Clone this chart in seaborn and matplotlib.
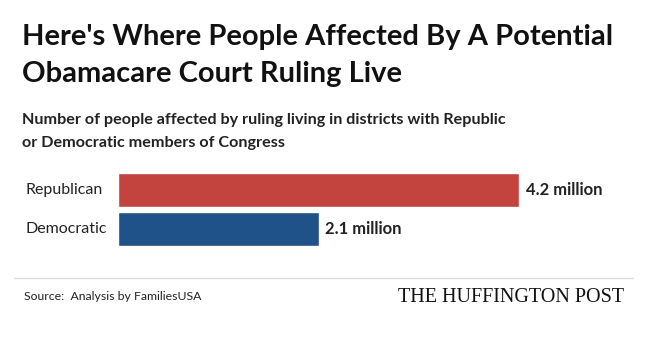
import matplotlib
matplotlib.use("Agg")
import matplotlib.pyplot as plt
import seaborn as sns
import pandas as pd

categories = ["Republican", "Democratic"]
values = [4.2, 2.1]
value_labels = ["4.2 million", "2.1 million"]
colors = ["#C3433F", "#20528A"]

sns.set_theme(style="white")
plt.rcParams['font.family'] = ['Lato', 'DejaVu Sans']

W, H = 646, 339
fig = plt.figure(figsize=(W / 100, H / 100), dpi=100)
fig.patch.set_facecolor("white")

def fx(px):
    return px / W

def fy(py):
    return 1 - py / H

ax = fig.add_axes([fx(118), fy(248), fx(519) - fx(118), (248 - 171) / H])
df = pd.DataFrame({"cat": categories, "val": values})
sns.barplot(data=df, x="val", y="cat", hue="cat", palette=colors, legend=False,
            width=0.88, ax=ax, saturation=1)
ax.set_xlim(0, 4.2)
ax.set_ylim(1.5, -0.5)
ax.set_xlabel("")
ax.set_ylabel("")
ax.set_xticks([])
ax.set_yticks([])
for s in ax.spines.values():
    s.set_visible(False)
ax.patch.set_alpha(0)

for i, (v, lab) in enumerate(zip(values, value_labels)):
    ax.annotate(lab, xy=(v, i), xycoords="data", xytext=(5, 0),
                textcoords="offset points", va="center", ha="left",
                fontsize=12, fontweight="bold", color="#222222")

for i, cat in enumerate(categories):
    ax.annotate(cat, xy=(0, i), xycoords=("axes fraction", "data"),
                xytext=(-93 * 0.72, 0), textcoords="offset points", va="center",
                ha="left", fontsize=11.5, color="#222222")

fig.text(fx(22), fy(37), "Here's Where People Affected By A Potential",
         fontsize=21, fontweight="bold", color="#111111", va="center")
fig.text(fx(22), fy(74), "Obamacare Court Ruling Live",
         fontsize=21, fontweight="bold", color="#111111", va="center")
fig.text(fx(22), fy(120), "Number of people affected by ruling living in districts with Republic",
         fontsize=11.6, fontweight="bold", color="#222222", va="center")
fig.text(fx(22), fy(143), "or Democratic members of Congress",
         fontsize=11.6, fontweight="bold", color="#222222", va="center")

fig.add_artist(plt.Line2D([fx(14), fx(633)], [fy(278), fy(278)], color="#dddddd", lw=1))

fig.text(fx(24), fy(297), "Source:  Analysis by FamiliesUSA", fontsize=8.8,
         color="#222222", va="center")
fig.text(fx(624), fy(297), "THE HUFFINGTON POST", fontsize=14.5,
         family=["Liberation Serif", "DejaVu Serif"], color="#111111",
         va="center", ha="right")

fig.savefig("out.png", dpi=100, facecolor="white")
